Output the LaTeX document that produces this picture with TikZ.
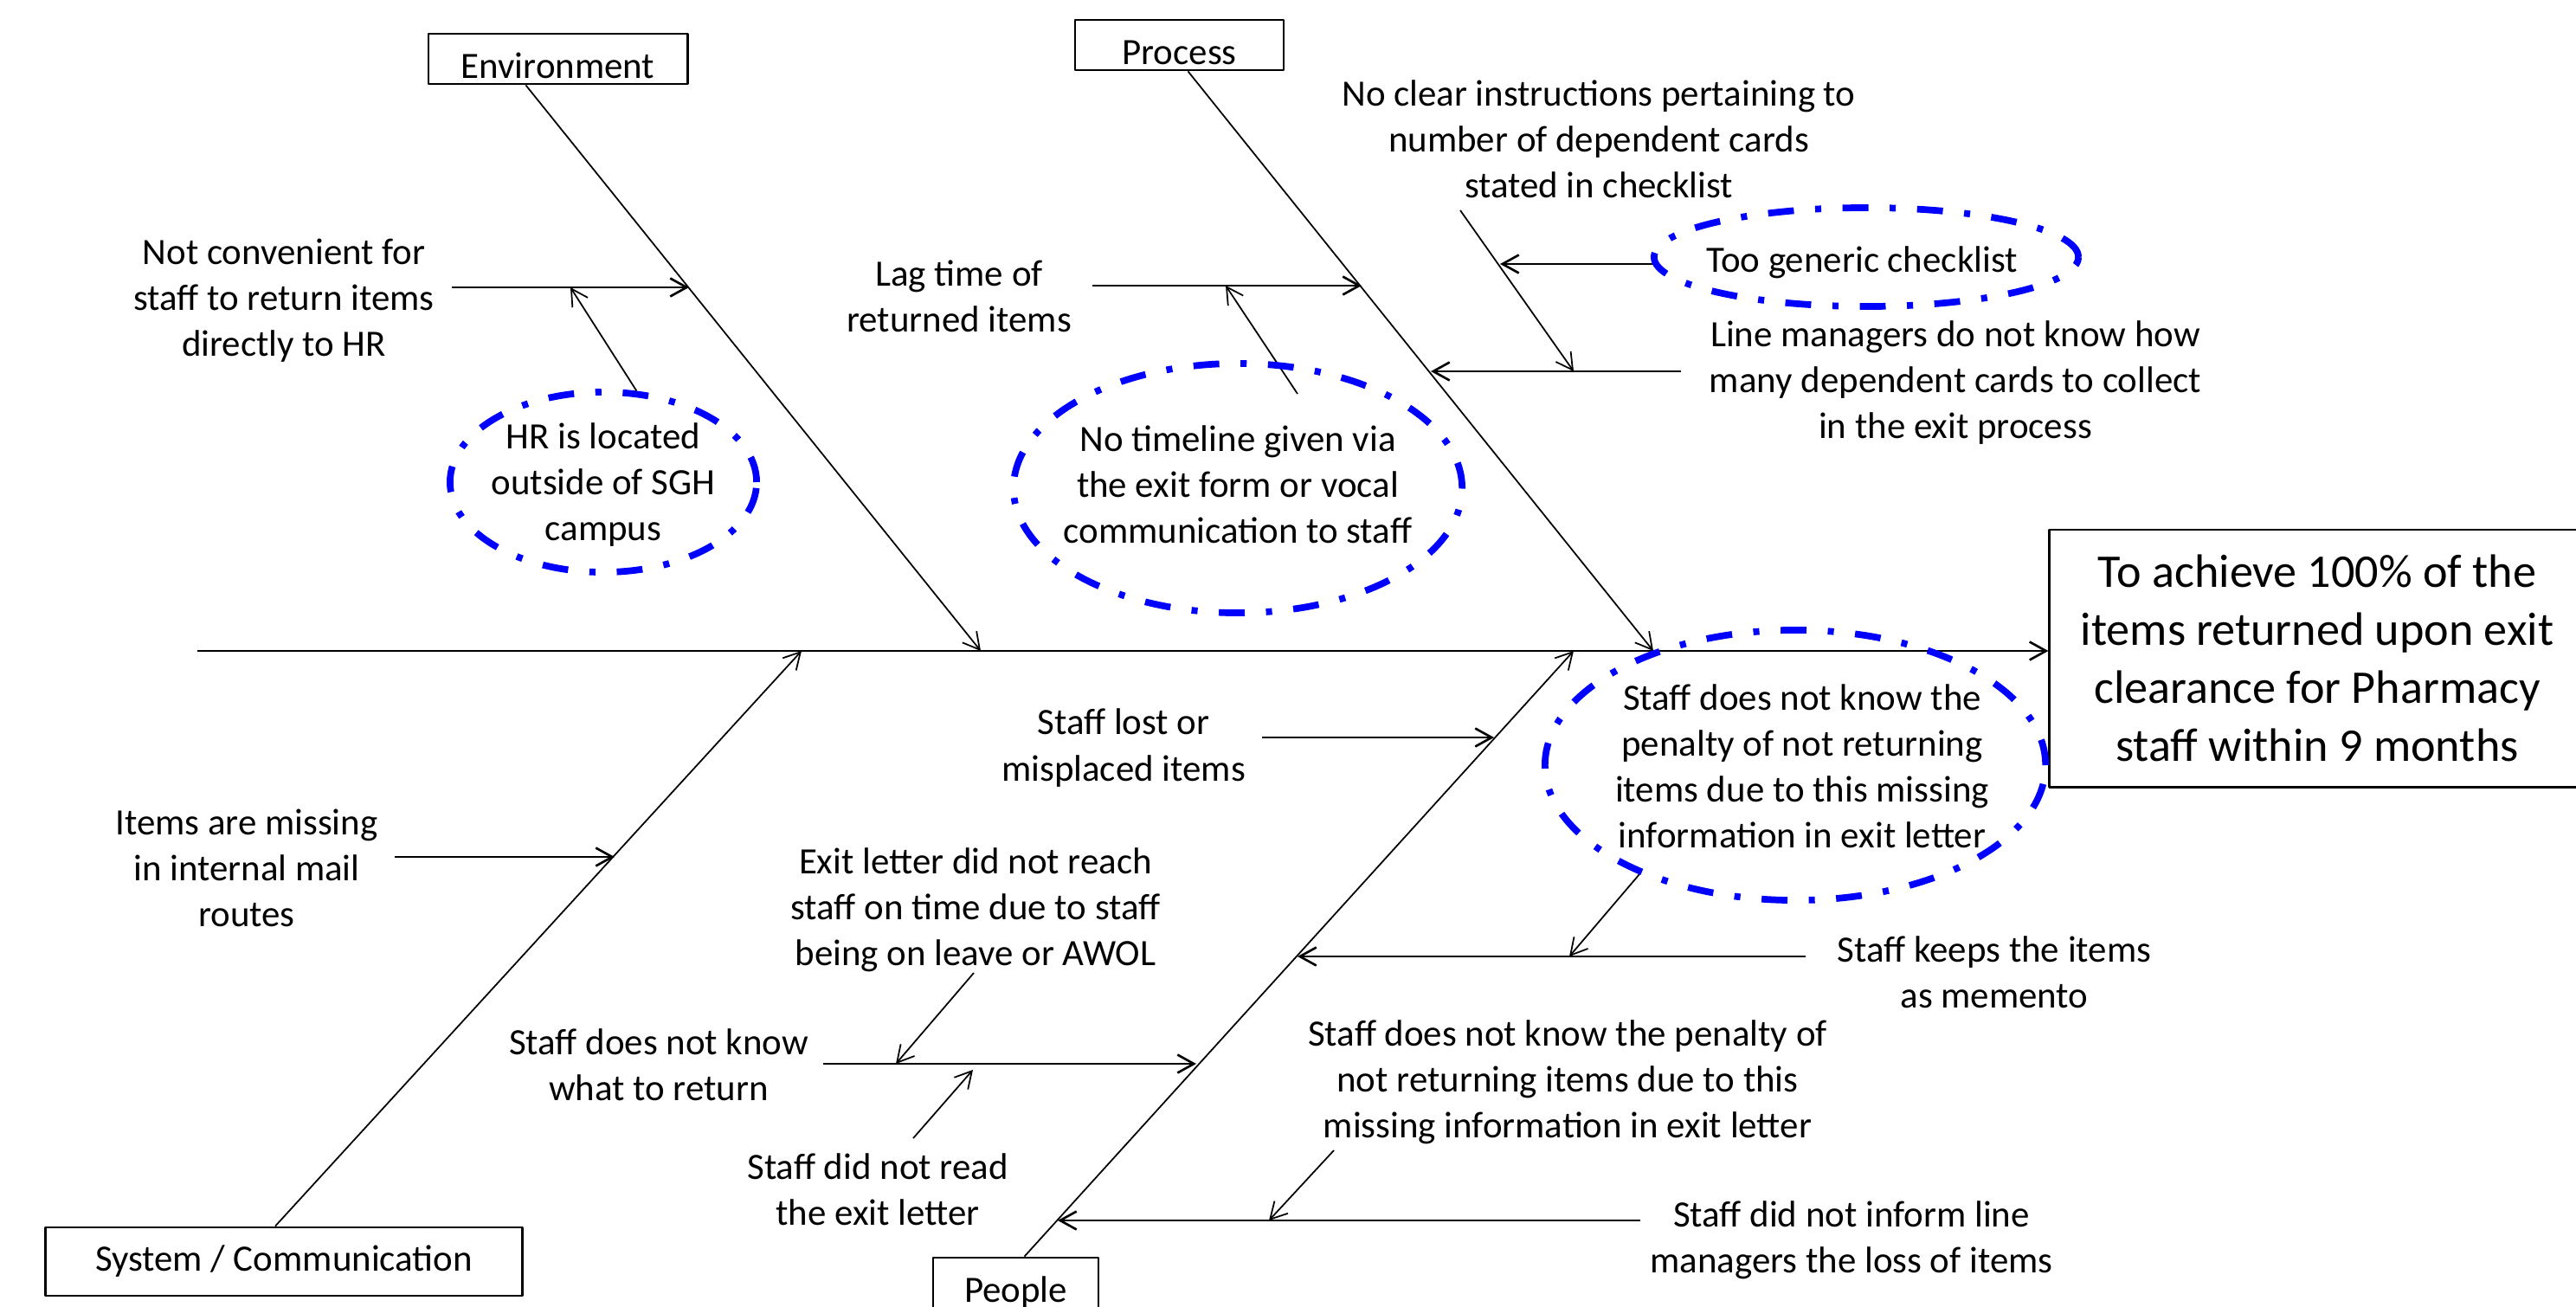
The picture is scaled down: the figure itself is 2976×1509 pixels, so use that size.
\documentclass[tikz,border=0pt]{standalone}
\usepackage{fontspec}
\setmainfont{Carlito}
\usetikzlibrary{arrows.meta,shapes.geometric}
\definecolor{ringblue}{RGB}{0,0,255}

\begin{document}
\begin{tikzpicture}[x=0.01cm, y=-0.01cm, line join=round,
    font=\fontsize{12.2}{15.1}\selectfont,
    bone/.style={line width=0.5pt, -{Straight Barb[length=0.19cm,width=0.21cm]}},
    sub/.style={line width=0.75pt, -{Straight Barb[length=0.19cm,width=0.21cm]}},
    cat/.style={draw, line width=0.8pt, inner sep=0pt, minimum height=0.58cm, text height=0.44cm, text depth=0pt},
    cause/.style={align=center, inner sep=0pt},
    ring/.style={draw=ringblue, ellipse, line width=2.2pt, inner sep=0pt,
      dash pattern=on 8.5pt off 7pt on 2pt off 7pt}]

  \useasboundingbox (0,0) rectangle (2976,1509);

  % categories
  \node[cat, minimum width=2.99cm] (env) at (644.5,68) {Environment};
  \node[cat, minimum width=2.41cm] (proc) at (1362.5,52) {Process};
  \node[draw, line width=0.8pt, minimum width=5.5cm, minimum height=0.79cm] (sys) at (328,1457.5) {System / Communication};
  \node[cat, minimum width=1.91cm] (ppl) at (1173.5,1482) {People};

  % effect
  \node[draw, line width=0.8pt, minimum width=6.18cm, minimum height=2.97cm, align=center,
    font=\fontsize{15.4}{19}\selectfont] (goal) at (2677,760.5)
    {To achieve 100\% of the\\items returned upon exit\\clearance for Pharmacy\\staff within 9 months};

  % spine and bones
  \coordinate (tail) at (228,752);
  \draw[sub] (tail) -- (tail -| goal.west);
  \coordinate (envtip) at (1133,752);
  \coordinate (proctip) at (1910,752);
  \coordinate (systip) at (926,752);
  \coordinate (ppltip) at (1818,752);
  \draw[bone] ([xshift=-0.37cm]env.south) -- (envtip);
  \draw[bone] ([xshift=0.1cm]proc.south) -- (proctip);
  \draw[bone] ([xshift=-0.1cm]sys.north) -- (systip);
  \draw[bone] ([xshift=0.1cm]ppl.north) -- (ppltip);

  % environment
  \node[cause] (conv) at (328,347) {Not convenient for\\staff to return items\\directly to HR};
  \node[cause] (hr) at (697,560) {HR is located\\outside of SGH\\campus};
  \coordinate (conv0) at (522,332);
  \coordinate (conv1) at (796,332);
  \coordinate (hr1) at (659,332);
  \draw[sub] (conv0) -- (conv1);

  % process
  \node[cause] (lag) at (1108,342) {Lag time of\\returned items};
  \node[cause] (tl) at (1430,560) {No timeline given via\\the exit form or vocal\\communication to staff};
  \node[cause] (instr) at (1847,161) {No clear instructions pertaining to\\number of dependent cards\\stated in checklist};
  \node[cause] (gen) at (2151,303) {Too generic checklist};
  \node[cause] (lm) at (2259,442) {Line managers do not know how\\many dependent cards to collect\\in the exit process};
  \coordinate (lag0) at (1262,330);
  \coordinate (lag1) at (1573,330);
  \coordinate (tl0) at (1499,455);
  \coordinate (tl1) at (1416,330);
  \coordinate (instr0) at (1687,243);
  \coordinate (instr1) at (1818,429);
  \coordinate (gen0) at (1912,305);
  \coordinate (gen1) at (1733,305);
  \coordinate (lm0) at (1942,429);
  \coordinate (lm1) at (1653,429);
  \draw[sub] (lag0) -- (lag1);
  \draw[bone] (tl0) -- (tl1);
  \draw[sub] (lm0) -- (lm1);
  \draw[bone] (instr0) -- (instr1);
  \draw[sub] (gen0) -- (gen1);

  % system / communication
  \node[cause] (mail) at (285,1003) {Items are missing\\in internal mail\\routes};
  \coordinate (mail0) at (456,990);
  \coordinate (mail1) at (710,990);
  \draw[sub] (mail0) -- (mail1);

  % people
  \node[cause] (lost) at (1298,864) {Staff lost or\\misplaced items};
  \node[cause] (late) at (1127,1051) {Exit letter did not reach\\staff on time due to staff\\being on leave or AWOL};
  \node[cause] (what) at (761,1230) {Staff does not know\\what to return};
  \node[cause] (read) at (1014,1374) {Staff did not read\\the exit letter};
  \node[cause] (pen) at (2082,885) {Staff does not know the\\penalty of not returning\\items due to this missing\\information in exit letter};
  \node[cause] (keep) at (2304,1123) {Staff keeps the items\\as memento};
  \node[cause] (pen2) at (1811,1250) {Staff does not know the penalty of\\not returning items due to this\\missing information in exit letter};
  \node[cause] (inform) at (2139,1433) {Staff did not inform line\\managers the loss of items};
  \coordinate (lost0) at (1458,852);
  \coordinate (lost1) at (1726,852);
  \coordinate (what0) at (951,1229);
  \coordinate (what1) at (1382,1229);
  \coordinate (late0) at (1125,1124);
  \coordinate (late1) at (1035,1229);
  \coordinate (read0) at (1055,1315);
  \coordinate (read1) at (1124,1236);
  \coordinate (keep0) at (2086,1105);
  \coordinate (keep1) at (1499,1105);
  \coordinate (pen1) at (1813,1105);
  \coordinate (inform0) at (1895,1410);
  \coordinate (inform1) at (1222,1410);
  \coordinate (pen20) at (1541,1329);
  \coordinate (pen21) at (1466,1410);
  \draw[sub] (lost0) -- (lost1);
  \draw[sub] (what0) -- (what1);
  \draw[bone] (late0) -- (late1);
  \draw[bone] (read0) -- (read1);
  \draw[sub] (keep0) -- (keep1);
  \draw[sub] (inform0) -- (inform1);
  \draw[bone] (pen20) -- (pen21);

  % blue rings round the root causes
  \node[ring, minimum width=3.54cm, minimum height=2.08cm] (hrring) at (697,557) {};
  \node[ring, minimum width=5.18cm, minimum height=2.88cm] (tlring) at (1430,564) {};
  \node[ring, minimum width=4.9cm, minimum height=1.14cm] (genring) at (2156,297) {};
  \node[ring, minimum width=5.78cm, minimum height=3.12cm] (penring) at (2074,884) {};
  \draw[bone] (hrring.70) -- (hr1);
  \draw[bone] (penring.215) -- (pen1);

\end{tikzpicture}
\end{document}
